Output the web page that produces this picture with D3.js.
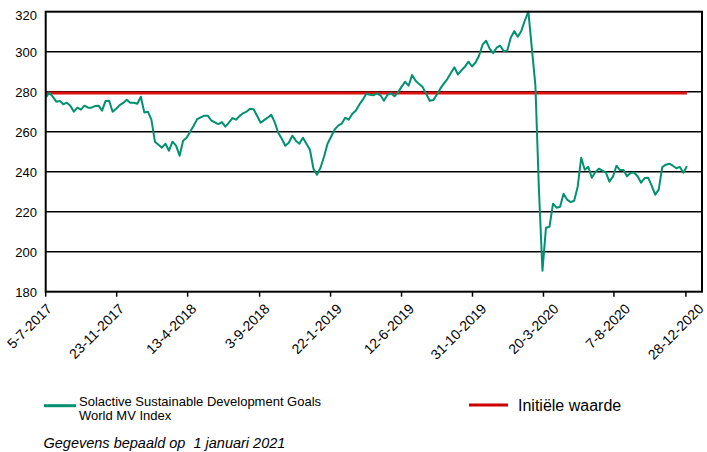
<!DOCTYPE html>
<html>
<head>
<meta charset="utf-8">
<script src="https://cdn.jsdelivr.net/npm/d3@7"></script>
<style>
  body { margin: 0; background: #fff; }
  svg { display: block; font-family: "Liberation Sans", Arial, sans-serif; }
</style>
</head>
<body>
<div id="chart"></div>
<script>
// weekly closes, first one on 5-7-2017
var firstDate = "2017-07-05";
var stepDays = 7;
var indexValues = [
    277, 279.5, 277.5, 275, 275.4, 273.7, 274.5, 273, 270, 272,
    271, 273, 272, 272, 272.8, 273, 270.5, 275.4, 275.5, 270,
    271.5, 273.3, 274.4, 276, 274.5, 274.5, 274, 277.5, 269.6, 270,
    266, 255, 253.5, 252, 254, 250.5, 255, 253, 248, 255.5,
    257, 260, 263, 266.3, 267.2, 268, 268, 265.6, 264.7, 263.8,
    264.8, 262.5, 264.5, 266.8, 266, 267.8, 269.2, 270, 271.5, 271.2,
    268, 264.5, 265.8, 267, 268.5, 264.8, 259.5, 256.5, 253, 254.5,
    258, 255.5, 254, 257, 254, 251, 241.5, 238.5, 242, 247.5,
    254, 257.5, 261, 263, 264, 267, 266, 268.9, 270.5, 273.5,
    276, 279, 278.5, 278.2, 279.2, 278.2, 275.5, 278.5, 279.2, 277.7,
    279.7, 282.4, 285, 283, 288.3, 285.5, 283.8, 282.3, 279, 275.5,
    275.8, 278.5, 281.5, 284, 286.3, 289.3, 292.2, 288.6, 290.7, 292.5,
    295, 292.6, 294.6, 298, 303.5, 305.5, 301.5, 299.3, 302, 303,
    300.3, 300.5, 307, 310.3, 307.5, 310.4, 315.6, 320, 301.5, 283,
    231, 190.5, 212, 212.5, 224, 222, 222.5, 229, 226, 224.8,
    225.5, 232.5, 247, 241, 242.5, 237, 239.7, 241.5, 240.5, 239.6,
    235, 237.5, 243, 240.8, 240.8, 237.7, 239.3, 239.6, 237.7, 234.5,
    236.8, 237, 233, 228.5, 231, 242.3, 243.5, 244, 243, 241.7,
    242.4, 239.5, 242.8
];
var initialValue = 279.4;
var xTickLabels = ["5-7-2017", "23-11-2017", "13-4-2018", "3-9-2018", "22-1-2019",
    "12-6-2019", "31-10-2019", "20-3-2020", "7-8-2020", "28-12-2020"];
var yTicks = [180, 200, 220, 240, 260, 280, 300, 320];
var axisEnd = "2021-01-29";
var seriesName = ["Solactive Sustainable Development Goals", "World MV Index"];
var refName = "Initiële waarde";
var footNote = "Gegevens bepaald op  1 januari 2021";

var W = 707, H = 452;
var plotLeft = 45.7, plotRight = 702, plotTop = 11.7, plotBottom = 291.7;
var green = "#009270", red = "#e01010";

function parseDMY(s) {
    var p = s.split("-");
    return new Date(+p[2], +p[1] - 1, +p[0]);
}

var start = d3.timeParse("%Y-%m-%d")(firstDate);
var data = indexValues.map(function (v, i) {
    return { date: d3.timeDay.offset(start, i * stepDays), value: v };
});
var tickDates = xTickLabels.map(parseDMY);

var svg = d3.select("#chart").append("svg")
    .attr("width", W)
    .attr("height", H);

var x = d3.scaleTime()
    .domain([start, d3.timeParse("%Y-%m-%d")(axisEnd)])
    .range([plotLeft, plotRight]);
var y = d3.scaleLinear()
    .domain([180, 320])
    .range([plotBottom, plotTop]);

// horizontal grid lines
svg.append("g")
    .selectAll("line")
    .data(yTicks.slice(1, -1))
    .enter()
    .append("line")
    .attr("x1", plotLeft).attr("x2", plotRight)
    .attr("y1", function (d) { return y(d); })
    .attr("y2", function (d) { return y(d); })
    .attr("stroke", "#000")
    .attr("stroke-width", 1.5);

// y labels
svg.append("g")
    .selectAll("text")
    .data(yTicks)
    .enter()
    .append("text")
    .attr("x", 37)
    .attr("y", function (d) { return y(d) + (d == 320 ? 4 : 1); })
    .attr("dy", "0.35em")
    .style("text-anchor", "end")
    .style("font-size", "13px")
    .text(function (d) { return d; });

// initial value line
svg.append("path")
    .datum([data[0].date, data[data.length - 1].date])
    .attr("d", d3.line()
        .x(function (d) { return x(d); })
        .y(function () { return y(initialValue); }))
    .attr("fill", "none")
    .attr("stroke", red)
    .attr("stroke-width", 3);

// index line
svg.append("path")
    .datum(data)
    .attr("d", d3.line()
        .x(function (d) { return x(d.date); })
        .y(function (d) { return y(d.value); }))
    .attr("fill", "none")
    .attr("stroke", green)
    .attr("stroke-width", 2)
    .attr("stroke-linejoin", "round");

// frame
svg.append("rect")
    .attr("x", plotLeft).attr("y", plotTop)
    .attr("width", plotRight - plotLeft).attr("height", plotBottom - plotTop)
    .attr("fill", "none")
    .attr("stroke", "#000")
    .attr("stroke-width", 2);

// x ticks
svg.append("g")
    .selectAll("line")
    .data(tickDates)
    .enter()
    .append("line")
    .attr("x1", function (d) { return x(d); })
    .attr("x2", function (d) { return x(d); })
    .attr("y1", plotBottom)
    .attr("y2", plotBottom + 5)
    .attr("stroke", "#000")
    .attr("stroke-width", 1.5);

// labels drift a bit right of their ticks, like in the original
var labelX = d3.scaleTime()
    .domain([tickDates[0], tickDates[tickDates.length - 1]])
    .range([x(tickDates[0]) + 7, x(tickDates[tickDates.length - 1]) + 18.5]);

svg.append("g")
    .selectAll("text")
    .data(tickDates)
    .enter()
    .append("text")
    .attr("transform", function (d) {
        return "translate(" + labelX(d) + "," + 309.8 + ") rotate(-45)";
    })
    .style("text-anchor", "end")
    .style("font-size", "14px")
    .text(function (d, i) { return xTickLabels[i]; });

// legend
var lg = svg.append("g");
lg.append("line")
    .attr("x1", 44).attr("x2", 76)
    .attr("y1", 405.7).attr("y2", 405.7)
    .attr("stroke", green).attr("stroke-width", 3);
lg.selectAll("text.s")
    .data(seriesName)
    .enter()
    .append("text")
    .attr("x", 79)
    .attr("y", function (d, i) { return 401.5 + i * 13.5; })
    .attr("dy", "0.35em")
    .style("font-size", "13px")
    .text(function (d) { return d; });
lg.append("line")
    .attr("x1", 469).attr("x2", 508)
    .attr("y1", 405).attr("y2", 405)
    .attr("stroke", "#cc0000").attr("stroke-width", 3);
lg.append("text")
    .attr("x", 518).attr("y", 405)
    .attr("dy", "0.35em")
    .style("font-size", "16px")
    .text(refName);

svg.append("text")
    .attr("x", 43.5).attr("y", 443)
    .attr("dy", "0.35em")
    .style("font-size", "14.5px")
    .style("font-style", "italic")
    .style("white-space", "pre")
    .text(footNote);
</script>
</body>
</html>
